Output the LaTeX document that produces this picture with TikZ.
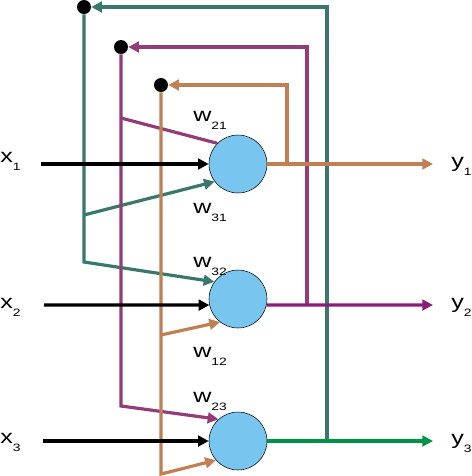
\documentclass[tikz,border=0pt]{standalone}
\usepackage{fontspec}
\setmainfont{Liberation Sans}
\newfontfamily\labfont[FakeStretch=1.3]{Liberation Sans}
\usepackage{xcolor}
\usepackage{tikz}
\usetikzlibrary{arrows.meta,calc}
\definecolor{cellblue}{RGB}{120,198,240}
\definecolor{fbteal}{RGB}{58,120,108}
\definecolor{fbplum}{RGB}{146,60,120}
\definecolor{fbtan}{RGB}{192,128,84}
\definecolor{outplum}{RGB}{140,28,122}
\definecolor{outgreen}{RGB}{0,146,69}
\tikzset{
  neuron/.style={circle, draw=black, thin, fill=cellblue, minimum size=43.5pt, inner sep=0pt},
  junction/.style={circle, fill=black, minimum size=10.5pt, inner sep=0pt},
  wire/.style={line width=2.4pt},
  sig/.style={wire, -{Triangle[length=8pt,width=8pt]}},
  lab/.style={anchor=base west, inner sep=0pt, font=\labfont\fontsize{14.5}{14.5}\selectfont}
}
\newcommand{\idx}[1]{\raisebox{-6.5pt}{\fontsize{8}{8}\selectfont #1}}

\begin{document}
\begin{tikzpicture}[x=0.75pt, y=-0.75pt]
    \useasboundingbox (0,0) rectangle (472,476);
    % neurons
    \node[neuron] (n1) at (238,164) {};
    \node[neuron] (n2) at (238,299) {};
    \node[neuron] (n3) at (238,441) {};
    % feedback junctions
    \node[junction] (d3) at (84,7) {};
    \node[junction] (d2) at (121,47) {};
    \node[junction] (d1) at (161,85) {};
    % free ends and taps
    \coordinate (x1) at (41,164);
    \coordinate (x2) at (44,305);
    \coordinate (x3) at (43,441);
    \coordinate (y1) at (433,164);
    \coordinate (y2) at (433,305);
    \coordinate (y3) at (433,441);
    \coordinate (t1) at (287,164);
    \coordinate (t2) at (307,305);
    \coordinate (t3) at (327,441);
    \coordinate (b31) at (84,215);
    \coordinate (b32) at (84,262);
    \coordinate (b21) at (121,118);
    \coordinate (b23) at (121,406);
    \coordinate (b12) at (161,335);
    \coordinate (b13) at (161,474);
    % feedback loops
    \draw[sig,fbteal] (t3) |- (d3);
    \draw[sig,fbplum] (t2) |- (d2);
    \draw[sig,fbtan] (t1) |- (d1);
    \draw[sig,fbteal] (d3) -- (b32) -- (n2.144);
    \draw[sig,fbteal] (b31) -- (n1.217);
    \draw[sig,fbplum] (d2) -- (b23) -- (n3.132);
    \draw[wire,fbplum] (b21) -- (n1.135);
    \draw[sig,fbtan] (d1) -- (b13) -- (n3.221);
    \draw[sig,fbtan] (b12) -- (n2.232);
    % inputs and outputs
    \draw[sig,black] (x1) -- (n1.west);
    \draw[sig,black] (x2) -- (n2.192);
    \draw[sig,black] (x3) -- (n3.west);
    \draw[sig,fbtan] (n1.east) -- (y1);
    \draw[sig,outplum] (n2.348) -- (y2);
    \draw[sig,outgreen] (n3.east) -- (y3);
    % labels
    \node[lab] (lx1) at (0,162) {x\idx{1}};
    \node[lab] (lx2) at (0,308) {x\idx{2}};
    \node[lab] (lx3) at (0,443) {x\idx{3}};
    \node[lab] (ly1) at (451,167) {y\idx{1}};
    \node[lab] (ly2) at (451,308) {y\idx{2}};
    \node[lab] (ly3) at (451,444) {y\idx{3}};
    \node[lab] (lw21) at (193,121) {w\idx{21}};
    \node[lab] (lw31) at (193,213) {w\idx{31}};
    \node[lab] (lw32) at (193,267) {w\idx{32}};
    \node[lab] (lw12) at (193,357) {w\idx{12}};
    \node[lab] (lw23) at (193,402) {w\idx{23}};
\end{tikzpicture}
\end{document}
